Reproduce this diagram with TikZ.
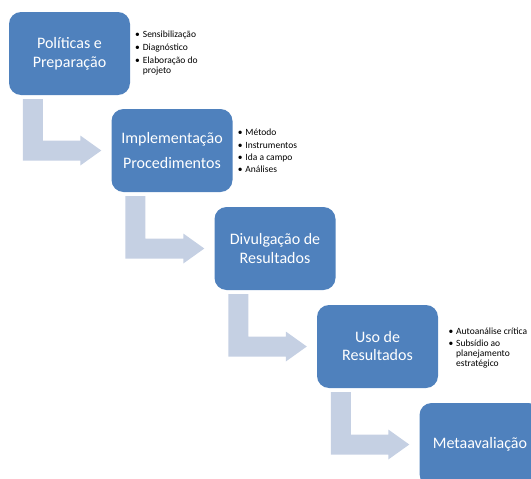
\documentclass[tikz,border=0pt]{standalone}
\usepackage{fontspec}
\setmainfont{Carlito}
\usetikzlibrary{calc}
\definecolor{boxblue}{HTML}{4F81BD}
\definecolor{arrowgrey}{HTML}{C5D0E3}
\tikzset{
  stage/.style={fill=boxblue, rounded corners=12pt, minimum width=121pt, minimum height=83pt,
    text=white, align=center, font=\fontsize{16}{19}\selectfont, inner sep=0pt},
  bul/.style={anchor=base west, inner sep=0pt, font=\fontsize{9.5}{11}\selectfont, text=black},
  bentfill/.style={fill=arrowgrey}
}
\newcommand\bentarr[2]{%
  \fill[bentfill] let \p1=(#1.south west), \p2=(#2.west) in
    ({\x1+14pt},{\y1-4pt}) -- ({\x1+34pt},{\y1-4pt}) -- ({\x1+34pt},{\y2+10pt})
    -- ({\x2-31pt},{\y2+10pt}) -- ({\x2-31pt},{\y2+15pt}) -- ({\x2-10pt},{\y2})
    -- ({\x2-31pt},{\y2-15pt}) -- ({\x2-31pt},{\y2-10pt}) -- ({\x1+14pt},{\y2-10pt}) -- cycle;}
\newcommand\bl[1]{\makebox[7.7pt][l]{•}#1}
\begin{document}
\begin{tikzpicture}[x=1pt,y=-1pt]
  \clip (0,0) rectangle (531,479);
  \node[stage] (s1) at (69.5,53.5) {Políticas e\\Preparação};
  \node[stage] (s2) at (172,150.5) {Implementação\\[6pt]Procedimentos};
  \node[stage] (s3) at (275,248.5) {Divulgação de\\Resultados};
  \node[stage, font=\fontsize{16}{18}\selectfont] (s4) at (377.5,346.5) {Uso de\\Resultados};
  \node[stage] (s5) at (480,444.5) {Metaavaliação};
  \bentarr{s1}{s2}
  \bentarr{s2}{s3}
  \bentarr{s3}{s4}
  \bentarr{s4}{s5}
  % bullets box 1
  \node[bul] (a1) at (135,37.5) {\bl{Sensibilização}};
  \node[bul] (a2) at (135,50.5) {\bl{Diagnóstico}};
  \node[bul] (a3) at (135,63.5) {\bl{Elaboração do}};
  \node[bul] (a4) at (142.7,73.5) {projeto};
  % bullets box 2
  \node[bul] (b1) at (237.6,135.7) {\bl{Método}};
  \node[bul] (b2) at (237.6,148) {\bl{Instrumentos}};
  \node[bul] (b3) at (237.6,160.3) {\bl{Ida a campo}};
  \node[bul] (b4) at (237.6,172.7) {\bl{Análises}};
  % bullets box 4
  \node[bul] (d1) at (448.3,334.3) {\bl{Autoanálise crítica}};
  \node[bul] (d2) at (448.3,346.7) {\bl{Subsídio ao}};
  \node[bul] (d3) at (456,356.5) {planejamento};
  \node[bul] (d4) at (456,366.5) {estratégico};
\end{tikzpicture}
\end{document}
